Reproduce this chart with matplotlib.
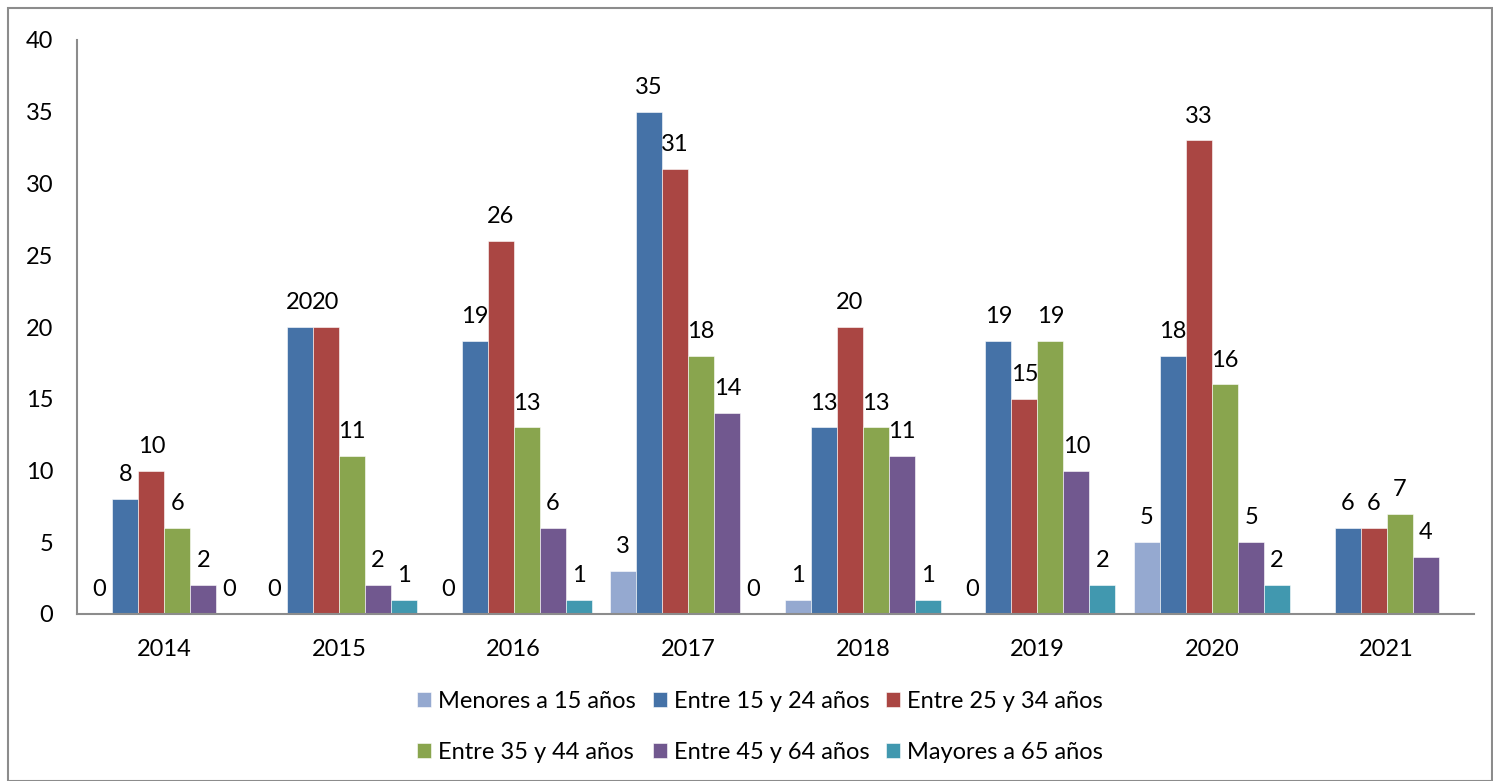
import numpy as np
import matplotlib
matplotlib.use("Agg")
import matplotlib.pyplot as plt
from matplotlib.patches import Rectangle

plt.rcParams['font.family'] = ['Lato', 'DejaVu Sans']

years = ["2014", "2015", "2016", "2017", "2018", "2019", "2020", "2021"]
series_names = ["Menores a 15 años", "Entre 15 y 24 años", "Entre 25 y 34 años",
                "Entre 35 y 44 años", "Entre 45 y 64 años", "Mayores a 65 años"]
menores = [0, 0, 0, 3, 1, 0, 5, np.nan]
e15_24 = [8, 20, 19, 35, 13, 19, 18, 6]
e25_34 = [10, 20, 26, 31, 20, 15, 33, 6]
e35_44 = [6, 11, 13, 18, 13, 19, 16, 7]
e45_64 = [2, 2, 6, 14, 11, 10, 5, 4]
mayores = [0, 1, 1, 0, 1, 2, 2, np.nan]
colors = ["#95A9D0", "#4572A7", "#AA4643", "#89A54E", "#71588F", "#4198AF"]

data = [menores, e15_24, e25_34, e35_44, e45_64, mayores]
FS = 17

fig = plt.figure(figsize=(14.93, 7.81), dpi=100)
ax = fig.add_axes([77/1493, 1-614/781, (1474-77)/1493, (614-40)/781])

x = np.arange(len(years))
w = 0.149
handles = []
for i, (vals, name, c) in enumerate(zip(data, series_names, colors)):
    off = (i - 2.5) * w
    v = np.array(vals, dtype=float)
    bars = ax.bar(x + off, np.nan_to_num(v), w, color=c, label=name,
                  edgecolor='white', linewidth=0.4)
    handles.append(bars)
    for xi, val in zip(x + off, v):
        if np.isnan(val):
            continue
        ax.annotate(f"{int(val)}", (xi, val), xytext=(0, 10), textcoords='offset points',
                    ha='center', va='bottom', fontsize=FS, color='black')

ax.set_xlim(-0.5, 7.5)
ax.set_ylim(0, 40)
ax.set_yticks(range(0, 41, 5))
ax.set_xticks(x)
ax.set_xticklabels(years)
ax.tick_params(axis='both', length=0, labelsize=FS, colors='black')
ax.tick_params(axis='y', pad=17)
ax.tick_params(axis='x', pad=18)
for s in ['top', 'right']:
    ax.spines[s].set_visible(False)
for s in ['left', 'bottom']:
    ax.spines[s].set_color('#8c8c8c')
    ax.spines[s].set_linewidth(1.5)

order = [0, 3, 1, 4, 2, 5]
leg = fig.legend([handles[k] for k in order], [series_names[k] for k in order],
                 loc='center', bbox_to_anchor=(760/1493, 1-727/781), ncol=3,
                 frameon=False, fontsize=FS, handlelength=0.6, handleheight=0.6,
                 handletextpad=0.3, columnspacing=0.7, labelspacing=1.25)

fig.patches.append(Rectangle((8/1493, 0.5/781), (1492-8)/1493, (781-8.5)/781,
                             transform=fig.transFigure, fill=False,
                             edgecolor='#8c8c8c', linewidth=1.5))

fig.savefig("out.png", dpi=100)
